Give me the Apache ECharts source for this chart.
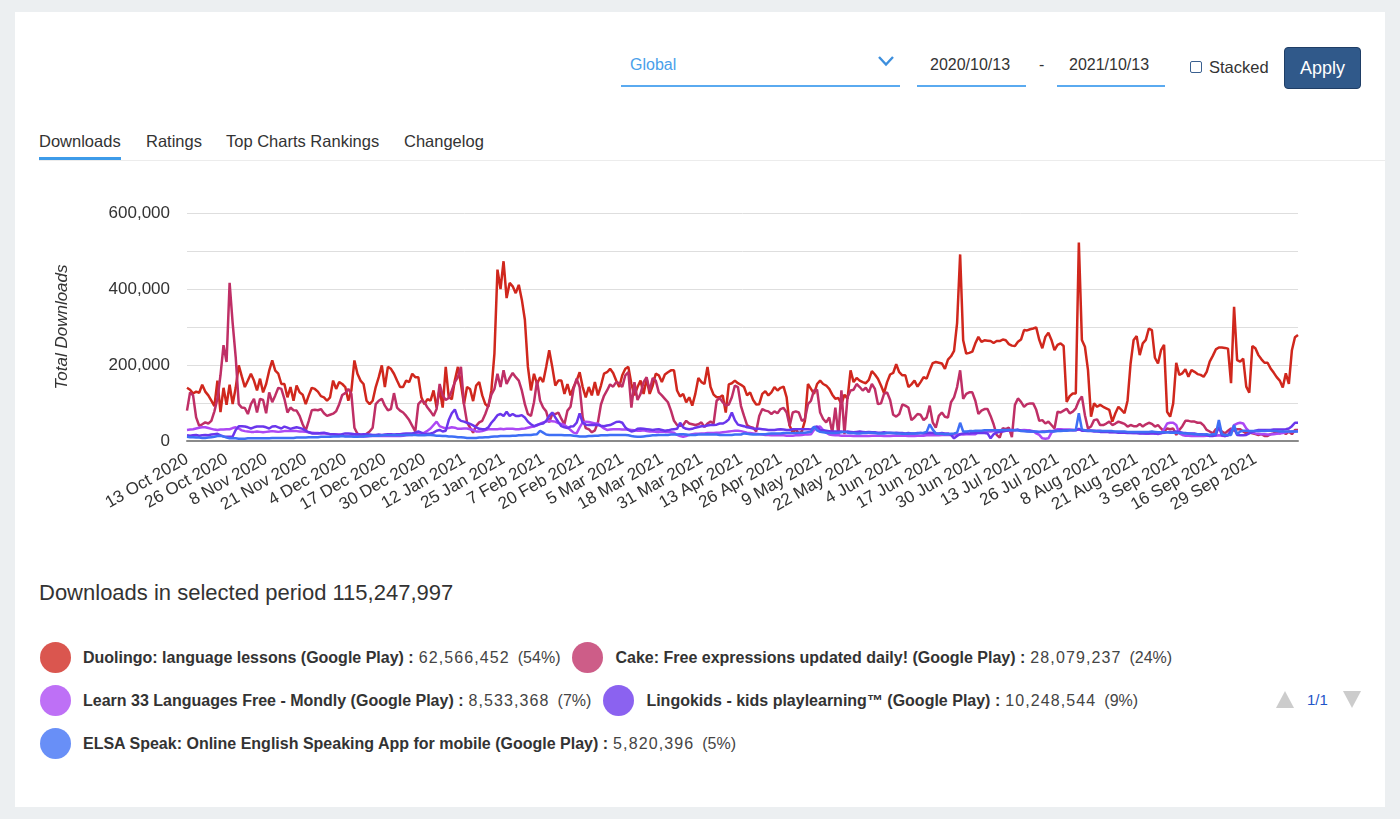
<!DOCTYPE html>
<html>
<head>
<meta charset="utf-8">
<script src="https://cdn.jsdelivr.net/npm/echarts/dist/echarts.min.js"></script>
<style>
  html, body { margin: 0; padding: 0; width: 1400px; height: 819px; overflow: hidden; background: #eceff1;
    font-family: "Liberation Sans", Arial, Helvetica, sans-serif; color: #333; }
  .abs { position: absolute; }
  #card { left: 15px; top: 12px; width: 1370px; height: 795px; background: #fff; }
  .t16 { font-size: 16px; line-height: 20px; }
  .tab { font-size: 16.5px; line-height: 20px; }
  #chart { left: 0; top: 170px; width: 1400px; height: 380px; }
  #legend { left: 40px; top: 642px; width: 1225px; display: flex; flex-wrap: wrap; row-gap: 12px; }
  .item { display: flex; align-items: center; margin-right: 12px; height: 31px; }
  .dot { width: 31px; height: 31px; border-radius: 50%; margin-right: 12px; opacity: 0.78; }
  .lbl { font-size: 16px; white-space: nowrap; color: #333; }
  .lbl b { font-weight: bold; }
  .lbl .num { color: #444; letter-spacing: 1.1px; margin-left: 5px; }
  .lbl .pct { color: #444; margin-left: 8px; }
</style>
</head>
<body>
<div id="card" class="abs"></div>

<!-- top controls -->
<div class="abs t16" style="left:630px;top:55px;color:#4aa0ea;">Global</div>
<svg class="abs" style="left:877px;top:55px;" width="18" height="12"><polyline points="2,2 9,9.5 16,2" fill="none" stroke="#3d8fdd" stroke-width="2.4"/></svg>
<div class="abs" style="left:621px;top:85px;width:279px;height:2px;background:#5aaaf0;"></div>
<div class="abs t16" style="left:930px;top:55px;">2020/10/13</div>
<div class="abs" style="left:917px;top:85px;width:109px;height:2px;background:#5aaaf0;"></div>
<div class="abs t16" style="left:1039px;top:55px;">-</div>
<div class="abs t16" style="left:1069px;top:55px;">2021/10/13</div>
<div class="abs" style="left:1057px;top:85px;width:108px;height:2px;background:#5aaaf0;"></div>
<div class="abs" style="left:1190px;top:61px;width:10px;height:10px;border:1.5px solid #3a6090;border-radius:2px;"></div>
<div class="abs" style="left:1209px;top:57px;font-size:16.5px;line-height:20px;">Stacked</div>
<div class="abs" style="left:1284px;top:47px;width:75px;height:40px;background:#30598a;border:1px solid #1f3e66;border-radius:4px;color:#fff;font-size:18px;line-height:40px;text-align:center;">Apply</div>

<!-- tabs -->
<div class="abs tab" style="left:39px;top:131px;">Downloads</div>
<div class="abs tab" style="left:146px;top:131px;">Ratings</div>
<div class="abs tab" style="left:226px;top:131px;">Top Charts Rankings</div>
<div class="abs tab" style="left:404px;top:131px;">Changelog</div>
<div class="abs" style="left:39px;top:160px;width:1346px;height:1px;background:#ececec;"></div>
<div class="abs" style="left:39px;top:157px;width:82px;height:3px;background:#3d9be9;"></div>

<div id="chart" class="abs"></div>

<div id="total" class="abs" style="left:39px;top:580px;font-size:22px;line-height:26px;color:#333;"></div>
<div id="legend" class="abs"></div>

<!-- pagination -->
<svg class="abs" style="left:1276px;top:691px;" width="18" height="17"><polygon points="9,0 18,17 0,17" fill="#cccccc"/></svg>
<div class="abs" style="left:1307px;top:690px;font-size:15px;line-height:20px;color:#1f55c8;">1/1</div>
<svg class="abs" style="left:1343px;top:691px;" width="18" height="17"><polygon points="0,0 18,0 9,17" fill="#cccccc"/></svg>

<script>
// ---------------- data ----------------
const startDate = [2020, 9, 13]; // 13 Oct 2020 (month 0-based)
const dayCount = 366;
const monthNames = ['Jan','Feb','Mar','Apr','May','Jun','Jul','Aug','Sep','Oct','Nov','Dec'];

const seriesNames = [
  'Duolingo: language lessons (Google Play)',
  'Cake: Free expressions updated daily! (Google Play)',
  'Learn 33 Languages Free - Mondly (Google Play)',
  'Lingokids - kids playlearning™ (Google Play)',
  'ELSA Speak: Online English Speaking App for mobile (Google Play)'
];
const seriesTotals = ['62,566,452', '28,079,237', '8,533,368', '10,248,544', '5,820,396'];
const seriesPercents = ['54%', '24%', '7%', '9%', '5%'];
const periodTotal = '115,247,997';
const lineColors = ['#d0271d', '#bf2f66', '#ac48f4', '#6a36ec', '#3e6ff5'];
const yTicks = [0, 200000, 400000, 600000];

// daily downloads, thousands
const duolingoK = [
  140,135,125,130,127,148,130,120,106,92,
  159,76,140,95,148,97,140,199,170,142,
  159,177,159,133,164,128,150,185,212,185,
  177,150,150,115,142,106,146,128,122,97,
  120,140,137,130,118,115,106,115,159,137,
  155,150,142,106,133,212,177,159,150,106,
  97,106,142,168,199,142,195,190,177,159,
  142,142,159,155,177,168,168,115,97,110,
  106,133,88,137,88,195,115,110,160,195,
  150,97,142,137,105,146,155,120,97,90,
  133,230,451,400,473,376,416,407,389,411,
  372,319,195,133,177,150,168,155,195,239,
  195,146,159,159,124,150,120,142,159,181,
  142,115,142,120,155,120,146,177,181,190,
  179,159,142,173,190,195,150,120,142,159,
  124,164,124,146,177,173,155,175,181,186,
  186,133,117,124,102,115,93,124,166,155,
  150,195,142,122,115,115,120,75,149,152,
  159,152,148,142,120,128,108,96,97,124,
  131,120,128,142,133,140,143,115,40,22,
  31,19,25,53,150,137,124,150,159,150,
  146,137,122,111,113,97,122,111,186,155,
  166,159,155,152,161,184,175,164,146,126,
  155,175,179,202,181,173,173,142,149,159,
  143,155,168,164,186,205,208,206,204,190,
  214,223,237,310,491,265,230,232,235,257,
  274,261,265,264,263,258,263,263,267,265,
  255,251,250,261,267,292,291,294,296,299,
  266,244,274,285,266,239,253,257,250,103,
  118,125,125,522,266,248,187,64,99,90,
  95,90,86,82,51,73,90,82,73,106,
  204,266,276,226,257,266,296,292,219,204,
  239,253,77,64,99,206,174,178,189,169,
  187,182,176,174,169,182,209,224,241,246,
  246,245,243,152,353,213,209,217,143,127,
  250,244,226,215,206,206,191,180,168,159,
  141,178,150,239,273,279
];
const cakeK = [
  80,128,120,62,40,44,49,46,53,78,
  111,173,252,208,416,310,221,97,88,87,
  71,97,111,75,111,108,73,128,102,120,
  140,137,111,75,88,81,80,66,44,27,
  53,81,82,81,84,73,66,69,72,78,
  97,121,126,137,124,35,19,16,13,19,
  25,35,97,106,111,93,81,84,126,88,
  80,75,66,55,40,25,97,106,102,88,
  78,66,84,150,120,108,113,133,155,168,
  195,97,49,35,22,40,49,53,71,93,
  122,137,177,142,186,150,166,179,168,159,
  133,97,71,66,102,159,106,88,78,49,
  71,71,75,58,44,80,90,137,164,142,
  62,34,31,23,28,49,96,119,133,149,
  143,155,152,142,173,181,88,155,108,124,
  155,168,133,166,159,128,120,111,102,80,
  53,42,40,42,53,46,44,42,44,49,
  37,46,51,46,106,113,102,93,96,115,
  146,142,92,66,42,37,35,25,66,84,
  80,78,71,78,73,84,87,75,40,75,
  78,75,53,58,97,106,133,135,75,58,
  49,62,22,88,16,133,18,115,133,135,
  150,142,133,140,128,150,137,97,99,124,
  128,108,69,64,71,96,93,88,55,62,
  71,69,55,62,93,49,35,66,75,64,
  62,102,115,142,186,111,124,128,128,106,
  71,80,84,84,66,44,16,9,34,31,
  35,10,95,112,103,90,97,99,99,82,
  53,55,46,51,42,33,77,75,80,85,
  73,77,86,106,117,68,33,38,55,57,
  42,42,46,51,42,46,51,48,45,38,
  42,39,39,45,38,44,48,45,38,42,
  33,25,33,31,33,16,29,39,53,53,
  51,51,48,48,41,29,25,20,31,32,
  25,20,27,33,27,31,31,25,20,24,
  20,18,16,18,13,13,18,20,24,20,
  25,18,25,18,29,29
];
const mondlyK = [
  29,30,31,33,35,36,36,34,32,30,
  29,30,30,31,31,34,36,33,28,26,
  25,24,24,25,24,23,24,25,26,25,
  24,25,26,26,26,26,26,25,25,24,
  23,22,21,21,20,20,19,18,18,17,
  17,14,13,13,13,12,13,12,12,12,
  13,13,13,13,14,13,13,13,14,13,
  13,14,15,16,16,18,20,20,22,27,
  33,42,51,39,36,33,34,36,35,32,
  32,33,33,31,29,25,25,26,29,31,
  31,31,31,32,31,32,32,32,31,31,
  32,33,35,37,38,41,45,49,51,53,
  52,51,47,45,42,36,29,22,20,36,
  49,51,50,48,46,46,39,33,29,30,
  31,31,31,30,30,30,29,28,27,27,
  28,26,25,25,24,24,25,24,24,23,
  22,16,13,11,13,16,18,19,19,20,
  20,21,21,21,22,22,23,24,25,26,
  27,27,26,24,22,21,20,19,18,17,
  16,16,15,15,15,15,15,14,14,14,
  15,15,16,17,17,18,29,36,38,29,
  22,17,16,15,15,14,14,14,14,13,
  13,13,13,13,13,14,14,14,14,13,
  13,13,14,14,14,14,14,13,13,13,
  14,14,14,15,15,15,15,15,16,16,
  16,16,17,17,17,17,18,18,18,18,
  24,24,25,25,25,26,26,26,27,27,
  27,28,28,28,28,29,28,28,26,20,
  16,7,6,7,22,27,31,31,30,30,
  30,29,29,30,29,28,28,28,27,27,
  27,25,25,24,24,24,23,23,22,22,
  22,21,21,21,21,20,20,20,20,18,
  20,31,46,48,48,42,20,16,14,14,
  13,13,13,13,13,14,14,14,14,15,
  14,13,15,25,42,46,48,46,33,25,
  22,20,19,18,18,17,17,18,19,20,
  21,23,24,25,25,26
];
const lingokidsK = [
  15,14,15,16,14,15,16,15,17,18,
  19,15,12,11,11,12,29,39,39,38,
  36,33,36,38,38,38,36,33,38,39,
  36,33,38,35,32,34,36,34,32,27,
  23,20,20,20,21,22,20,18,18,17,
  16,18,20,20,19,18,18,17,18,18,
  17,16,16,17,16,17,18,18,17,18,
  18,19,20,20,20,22,25,22,18,19,
  20,22,27,29,25,27,55,73,83,60,
  53,51,48,45,41,36,32,31,31,36,
  48,57,68,71,66,77,66,71,66,66,
  68,62,51,44,39,42,45,46,53,66,
  75,62,50,39,36,34,38,39,48,73,
  48,43,42,42,43,42,40,39,41,42,
  46,50,51,48,36,29,25,27,32,33,
  32,31,30,29,30,31,29,27,28,30,
  31,32,48,36,32,31,32,35,37,39,
  39,41,42,42,43,46,46,50,57,75,
  55,43,41,39,36,35,33,32,32,31,
  30,29,29,29,30,31,30,29,29,31,
  31,31,31,31,31,30,36,38,29,28,
  27,26,25,25,25,25,24,25,24,23,
  24,25,24,23,24,23,23,22,22,23,
  22,22,21,22,21,21,20,21,20,20,
  21,21,20,21,22,21,20,20,21,20,
  20,16,7,13,18,20,21,20,21,21,
  22,21,21,20,7,18,22,24,25,27,
  29,29,29,30,27,26,26,25,25,24,
  24,25,25,26,26,27,27,28,28,28,
  28,29,28,32,27,27,26,26,25,25,
  24,24,24,23,23,23,22,22,22,21,
  21,21,21,20,20,20,20,21,20,20,
  21,22,23,24,24,25,24,22,21,20,
  20,20,18,18,17,16,13,13,16,38,
  15,13,15,27,33,16,15,15,16,20,
  24,27,29,29,29,29,29,30,30,30,
  30,31,33,39,48,48
];
const elsaK = [
  11,10,10,9,9,8,8,9,10,11,
  13,14,12,9,7,7,7,6,6,6,
  7,7,7,7,7,7,7,7,8,8,
  8,8,8,8,8,8,9,9,9,9,
  10,10,10,10,11,11,11,11,12,12,
  12,13,12,12,12,11,11,12,12,13,
  13,14,14,14,15,15,15,15,16,15,
  15,15,16,16,16,16,15,15,15,16,
  16,15,14,14,13,13,12,12,11,10,
  10,9,8,8,8,8,9,9,10,10,
  11,12,12,13,13,13,13,14,14,15,
  15,16,16,16,17,18,27,22,17,16,
  16,16,16,16,15,15,15,14,13,12,
  12,12,13,13,14,14,15,15,15,16,
  16,16,16,16,16,15,13,12,11,11,
  12,13,14,15,15,16,16,16,16,17,
  17,17,18,18,17,16,16,16,17,17,
  17,18,17,17,17,16,16,16,16,16,
  17,17,17,20,19,18,17,17,18,18,
  18,19,20,20,20,20,21,21,21,21,
  21,22,22,22,23,24,38,28,24,23,
  22,21,21,21,22,23,24,22,21,21,
  20,20,21,21,22,22,21,20,20,20,
  21,21,21,20,20,19,19,19,20,20,
  20,21,22,24,44,30,20,19,19,18,
  18,19,20,22,48,25,25,26,26,27,
  27,27,28,28,28,28,28,28,29,29,
  29,28,28,28,26,26,25,25,25,25,
  24,24,24,25,25,25,26,26,27,27,
  28,28,29,73,31,28,27,27,27,26,
  26,26,26,26,26,25,25,25,25,24,
  24,24,24,24,24,24,24,25,24,23,
  23,23,23,22,22,22,21,21,20,20,
  19,18,18,17,17,18,16,18,18,55,
  18,16,16,16,42,18,25,27,27,26,
  26,26,26,26,26,27,27,26,26,25,
  25,25,25,25,25,25
];
const seriesValuesK = [duolingoK, cakeK, mondlyK, lingokidsK, elsaK];

// ---------------- categories ----------------
const categories = [];
for (let i = 0; i < dayCount; i++) {
  const d = new Date(Date.UTC(startDate[0], startDate[1], startDate[2] + i));
  categories.push(d.getUTCDate() + ' ' + monthNames[d.getUTCMonth()] + ' ' + d.getUTCFullYear());
}

function fmt(n) { return String(n).replace(/\B(?=(\d{3})+(?!\d))/g, ','); }

// ---------------- chart ----------------
const chart = echarts.init(document.getElementById('chart'), null, { renderer: 'canvas' });
chart.setOption({
  animation: false,
  textStyle: { fontFamily: '"Liberation Sans", Arial, sans-serif' },
  grid: { left: 187, right: 102, top: 43, bottom: 109 },
  xAxis: {
    type: 'category',
    data: categories,
    boundaryGap: false,
    axisLine: { lineStyle: { color: '#8a8a8a', width: 2 } },
    axisTick: { show: false },
    axisLabel: {
      interval: function (i) { return i % 13 === 0 && i <= 351; },
      rotate: 30, fontSize: 17, color: '#333', margin: 17
    },
    splitLine: { show: false }
  },
  yAxis: {
    type: 'value', min: 0, max: 600000, interval: 100000,
    name: 'Total Downloads', nameLocation: 'middle', nameGap: 116,
    nameTextStyle: { fontStyle: 'italic', fontSize: 17, color: '#333' },
    axisLine: { show: false }, axisTick: { show: false },
    axisLabel: {
      fontSize: 17, color: '#333', margin: 17,
      formatter: function (v) { return yTicks.indexOf(v) >= 0 ? fmt(v) : ''; }
    },
    splitLine: { lineStyle: { color: '#dedede', width: 1 } }
  },
  series: seriesNames.map(function (name, k) {
    return {
      name: name, type: 'line', showSymbol: false, symbol: 'none',
      data: seriesValuesK[k].map(function (v) { return v * 1000; }),
      lineStyle: { color: lineColors[k], width: 2.5 },
      itemStyle: { color: lineColors[k] },
      z: 2 + k
    };
  })
});

// ---------------- summary & legend ----------------
document.getElementById('total').textContent = 'Downloads in selected period ' + periodTotal;
const legend = document.getElementById('legend');
seriesNames.forEach(function (name, k) {
  const item = document.createElement('div'); item.className = 'item';
  const dot = document.createElement('div'); dot.className = 'dot'; dot.style.background = lineColors[k];
  const lbl = document.createElement('div'); lbl.className = 'lbl';
  const b = document.createElement('b'); b.textContent = name + ' :';
  const n = document.createElement('span'); n.className = 'num'; n.textContent = seriesTotals[k];
  const p = document.createElement('span'); p.className = 'pct'; p.textContent = '(' + seriesPercents[k] + ')';
  lbl.appendChild(b); lbl.appendChild(n); lbl.appendChild(p);
  item.appendChild(dot); item.appendChild(lbl); legend.appendChild(item);
});
</script>
</body>
</html>
